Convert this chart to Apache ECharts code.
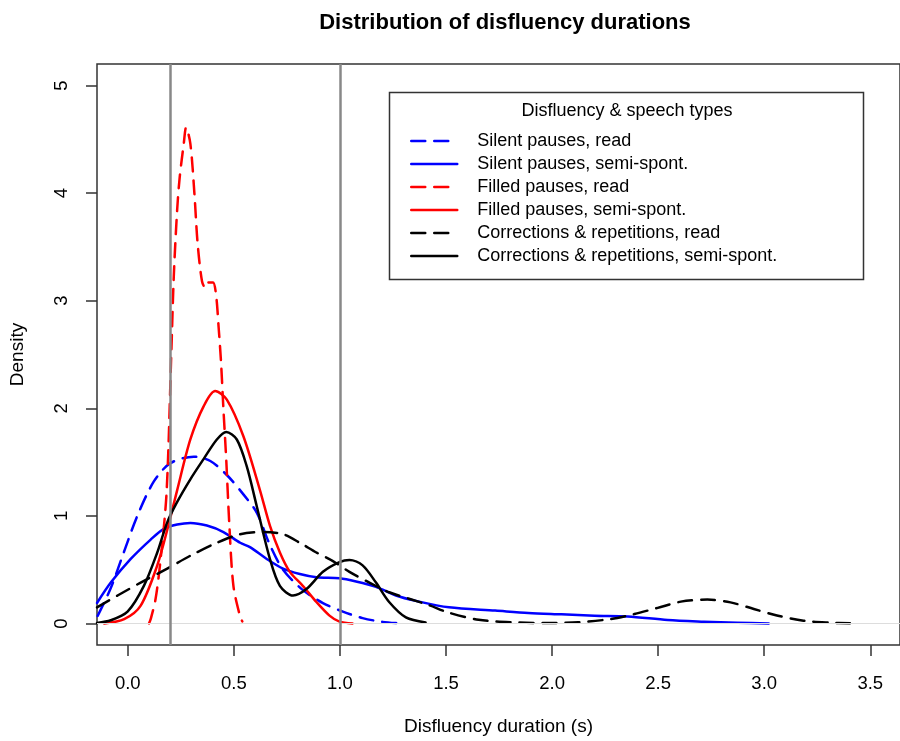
<!DOCTYPE html>
<html>
<head>
<meta charset="utf-8">
<script src="https://cdn.jsdelivr.net/npm/echarts@6/dist/echarts.min.js"></script>
<style>
html,body{margin:0;padding:0;background:#fff;}
#chart{width:900px;height:741px;}
</style>
</head>
<body>
<div id="chart"></div>
<script>
// ---- data (density estimates) ----
const xTicks = [0.0, 0.5, 1.0, 1.5, 2.0, 2.5, 3.0, 3.5];
const yTicks = [0, 1, 2, 3, 4, 5];
const refLines = [0.2, 1.0];

const seriesNames = [
  'Silent pauses, read',
  'Silent pauses, semi-spont.',
  'Filled pauses, read',
  'Filled pauses, semi-spont.',
  'Corrections & repetitions, read',
  'Corrections & repetitions, semi-spont.'
];

const silentReadX = [-0.142, -0.08, -0.017, 0.045, 0.123, 0.201, 0.311, 0.389, 0.467, 0.545, 0.608, 0.670, 0.732, 0.826, 0.920, 1.014, 1.107, 1.201, 1.295];
const silentReadY = [0.07, 0.33, 0.67, 1.00, 1.32, 1.49, 1.55, 1.51, 1.38, 1.20, 1.03, 0.73, 0.50, 0.31, 0.19, 0.11, 0.05, 0.015, 0.0];

const silentSemiX = [-0.145, -0.08, 0.014, 0.108, 0.170, 0.233, 0.295, 0.373, 0.451, 0.530, 0.576, 0.655, 0.732, 0.811, 0.889, 0.998, 1.076, 1.170, 1.264, 1.358, 1.514, 1.732, 1.888, 2.044, 2.200, 2.357, 2.545, 2.716, 2.873, 3.021];
const silentSemiY = [0.19, 0.38, 0.60, 0.78, 0.88, 0.92, 0.935, 0.91, 0.85, 0.75, 0.71, 0.60, 0.51, 0.46, 0.43, 0.42, 0.39, 0.34, 0.26, 0.21, 0.15, 0.12, 0.098, 0.085, 0.072, 0.065, 0.032, 0.017, 0.007, 0.0];

const filledReadX = [0.100, 0.108, 0.131, 0.155, 0.183, 0.205, 0.217, 0.233, 0.245, 0.264, 0.275, 0.295, 0.314, 0.329, 0.350, 0.366, 0.381, 0.402, 0.417, 0.428, 0.439, 0.451, 0.464, 0.479, 0.498, 0.530, 0.540];
const filledReadY = [0.0, 0.04, 0.227, 0.60, 1.22, 2.50, 3.23, 3.85, 4.15, 4.46, 4.61, 4.46, 4.00, 3.54, 3.18, 3.12, 3.17, 3.17, 3.04, 2.76, 2.45, 1.99, 1.53, 0.91, 0.35, 0.06, 0.02];

const filledSemiX = [-0.111, -0.017, 0.061, 0.139, 0.186, 0.233, 0.295, 0.358, 0.412, 0.467, 0.545, 0.623, 0.670, 0.717, 0.764, 0.825, 0.889, 0.951, 0.998, 1.059];
const filledSemiY = [0.0, 0.04, 0.166, 0.54, 0.87, 1.24, 1.71, 2.02, 2.16, 2.08, 1.74, 1.24, 0.91, 0.66, 0.48, 0.35, 0.20, 0.073, 0.017, 0.0];

const corrReadX = [-0.145, -0.048, 0.061, 0.186, 0.295, 0.420, 0.530, 0.639, 0.732, 0.811, 0.889, 0.967, 1.045, 1.139, 1.232, 1.326, 1.420, 1.514, 1.654, 1.810, 1.967, 2.123, 2.279, 2.388, 2.498, 2.607, 2.732, 2.841, 2.951, 3.060, 3.185, 3.310, 3.404];
const corrReadY = [0.15, 0.26, 0.38, 0.51, 0.63, 0.75, 0.83, 0.85, 0.83, 0.75, 0.66, 0.58, 0.48, 0.38, 0.29, 0.23, 0.17, 0.10, 0.035, 0.011, 0.005, 0.011, 0.042, 0.088, 0.145, 0.203, 0.222, 0.196, 0.135, 0.074, 0.026, 0.008, 0.002];

const corrSemiX = [-0.145, -0.080, -0.001, 0.076, 0.139, 0.186, 0.233, 0.295, 0.358, 0.420, 0.464, 0.514, 0.561, 0.608, 0.670, 0.717, 0.779, 0.842, 0.920, 0.998, 1.045, 1.107, 1.170, 1.232, 1.311, 1.404];
const corrSemiY = [0.005, 0.03, 0.11, 0.35, 0.66, 0.94, 1.13, 1.34, 1.53, 1.71, 1.78, 1.71, 1.46, 1.09, 0.60, 0.35, 0.26, 0.32, 0.48, 0.57, 0.59, 0.54, 0.38, 0.20, 0.057, 0.01];

// ---- build chart ----
const FONT = '"Liberation Sans", Arial, Helvetica, sans-serif';
function zip(xs, ys) { return xs.map((x, i) => [x, ys[i]]); }
const dashPattern = [14, 9];

function curve(name, xs, ys, color, dashed) {
  return {
    name: name,
    type: 'line',
    data: zip(xs, ys),
    symbol: 'none',
    showSymbol: false,
    smooth: 0.3,
    clip: true,
    silent: true,
    lineStyle: { color: color, width: 2.5, type: dashed ? dashPattern : 'solid', cap: 'round', join: 'round' },
    itemStyle: { color: color },
    z: 3
  };
}

const chart = echarts.init(document.getElementById('chart'), null, { renderer: 'canvas' });

const option = {
  backgroundColor: '#ffffff',
  animation: false,
  title: {
    text: 'Distribution of disfluency durations',
    left: 500,
    top: 7,
    textAlign: 'center',
    textStyle: { fontFamily: FONT, fontSize: 22, fontWeight: 'bold', color: '#000' }
  },
  grid: {
    left: 96, right: -4, top: 64, bottom: 95,
    show: true, borderColor: '#333', borderWidth: 1.5, backgroundColor: 'transparent'
  },
  legend: {
    data: seriesNames,
    orient: 'vertical',
    left: 410,
    top: 132,
    itemWidth: 46,
    itemHeight: 14,
    itemGap: 5,
    selectedMode: false,
    padding: 0,
    z: 12,
    itemStyle: { opacity: 0, borderWidth: 0 },
    lineStyle: { width: 2.5 },
    textStyle: { fontFamily: FONT, fontSize: 18, lineHeight: 18, color: '#000', padding: [0, 0, 0, 15] }
  },
  xAxis: {
    type: 'value',
    min: -0.145,
    max: 3.64,
    name: 'Disfluency duration (s)',
    nameLocation: 'middle',
    nameGap: 72,
    nameTextStyle: { fontFamily: FONT, fontSize: 19, color: '#000' },
    axisLine: { show: false, onZero: false },
    splitLine: { show: false },
    axisTick: { show: true, length: 11, inside: false, customValues: xTicks, lineStyle: { color: '#333', width: 1.5 } },
    axisLabel: { show: true, margin: 29, customValues: xTicks, formatter: v => v.toFixed(1), fontFamily: FONT, fontSize: 18.5, color: '#000' }
  },
  yAxis: {
    type: 'value',
    min: -0.2,
    max: 5.2,
    name: 'Density',
    nameLocation: 'middle',
    nameGap: 70,
    nameRotate: 90,
    nameTextStyle: { fontFamily: FONT, fontSize: 19, color: '#000' },
    axisLine: { show: false, onZero: false },
    splitLine: { show: false },
    axisTick: { show: true, length: 11, inside: false, customValues: yTicks, lineStyle: { color: '#333', width: 1.5 } },
    axisLabel: { show: true, margin: 26, rotate: 90, customValues: yTicks, formatter: v => String(v), fontFamily: FONT, fontSize: 18.5, color: '#000' }
  },
  graphic: [
    { type: 'rect', shape: { x: 389.5, y: 92.5, width: 474, height: 187 }, style: { fill: 'none', stroke: '#333', lineWidth: 1.5 }, z: 10, silent: true },
    { type: 'text', x: 627, y: 111, style: { text: 'Disfluency & speech types', fontFamily: FONT, fontSize: 18, fill: '#000', align: 'center', verticalAlign: 'middle' }, z: 11, silent: true }
  ],
  series: [
    {
      name: 'ref',
      type: 'line',
      data: [],
      silent: true,
      markLine: {
        symbol: 'none',
        silent: true,
        label: { show: false },
        data: [
          { yAxis: 0, lineStyle: { color: '#dddddd', width: 1, type: 'solid' } },
          ...refLines.map(v => ({ xAxis: v, lineStyle: { color: '#888888', width: 2.5, type: 'solid' } }))
        ]
      },
      z: 2
    },
    curve(seriesNames[0], silentReadX, silentReadY, '#0000ff', true),
    curve(seriesNames[1], silentSemiX, silentSemiY, '#0000ff', false),
    curve(seriesNames[2], filledReadX, filledReadY, '#ff0000', true),
    curve(seriesNames[3], filledSemiX, filledSemiY, '#ff0000', false),
    curve(seriesNames[4], corrReadX, corrReadY, '#000000', true),
    curve(seriesNames[5], corrSemiX, corrSemiY, '#000000', false)
  ]
};

chart.setOption(option);
</script>
</body>
</html>
